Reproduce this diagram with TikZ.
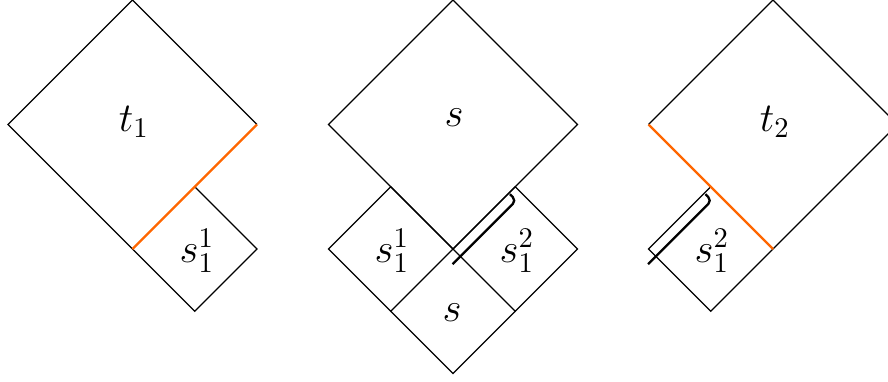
\documentclass[tikz,border=0pt]{standalone}
\usepackage{graphicx}
\definecolor{myorange}{RGB}{255,102,0}
\newcommand{\biglab}[1]{\scalebox{2.85}{\Large$#1$}}
\begin{document}
\begin{tikzpicture}[x=1pt,y=-1pt,
  edge/.style={line width=1.2pt, line join=miter},
  hl/.style={draw=myorange, line width=2.4pt},
  bracket/.style={line width=2.3pt, rounded corners=5pt},
  lab/.style={inner sep=0pt}]
\useasboundingbox (0,0) rectangle (888,381);
% ---------- left diagram ----------
\coordinate (A1t) at (132.5,0);
\coordinate (A1l) at (8,124.5);
\coordinate (A1b) at (132.5,249);
\coordinate (A1r) at (257,124.5);
\coordinate (a1t) at (194.75,186.75);
\coordinate (a1r) at (257,249);
\coordinate (a1b) at (194.75,311.25);
\draw[edge] (A1b) -- (A1l) -- (A1t) -- (A1r);
\draw[edge] (a1t) -- (a1r) -- (a1b) -- (A1b);
\draw[hl] (A1b) -- (A1r);
\node[lab] (t1) at (134,122) {\biglab{t_1}};
\node[lab] (s11a) at (197,251) {\biglab{s_1^1}};
% ---------- middle diagram ----------
\coordinate (Bt) at (453,0);
\coordinate (Bl) at (328.5,124.5);
\coordinate (Bb) at (453,249);
\coordinate (Br) at (577.5,124.5);
\coordinate (b1t) at (390.75,186.75);
\coordinate (b1l) at (328.5,249);
\coordinate (b1b) at (390.75,311.25);
\coordinate (b2t) at (515.25,186.75);
\coordinate (b2r) at (577.5,249);
\coordinate (b2b) at (515.25,311.25);
\coordinate (b3b) at (453,373.5);
\draw[edge] (Bt) -- (Bl) -- (Bb) -- (Br) -- cycle;
\draw[edge] (b1t) -- (b1l) -- (b1b) -- (Bb) -- cycle;
\draw[edge] (b2t) -- (b2r) -- (b2b) -- (Bb) -- cycle;
\draw[edge] (b1b) -- (b3b) -- (b2b);
\node[lab] (s) at (454,118) {\biglab{s}};
\node[lab] (s11b) at (392,251) {\biglab{s_1^1}};
\node[lab] (s12b) at (517,251) {\biglab{s_1^2}};
\node[lab] (sb) at (452,313) {\biglab{s}};
\begin{scope}[shift={(Bb)}, x={(0.7071pt,0.7071pt)}, y={(0.7071pt,-0.7071pt)}]
  \coordinate (m0) at (-11,10.5);
  \coordinate (m1) at (79,10.5);
  \coordinate (m2) at (79,1.5);
  \draw[bracket] (m0) -- (m1) -- (m2);
\end{scope}
% ---------- right diagram ----------
\coordinate (Ct) at (773,0);
\coordinate (Cl) at (648.5,124.5);
\coordinate (Cb) at (773,249);
\coordinate (Cr) at (897.5,124.5);
\coordinate (c1t) at (710.75,186.75);
\coordinate (c1l) at (648.5,249);
\coordinate (c1b) at (710.75,311.25);
\draw[edge] (Cl) -- (Ct) -- (Cr) -- (Cb);
\draw[edge] (c1t) -- (c1l) -- (c1b) -- (Cb);
\draw[hl] (Cl) -- (Cb);
\node[lab] (t2) at (775,122) {\biglab{t_2}};
\node[lab] (s12c) at (712,251) {\biglab{s_1^2}};
\begin{scope}[shift={(c1l)}, x={(0.7071pt,0.7071pt)}, y={(0.7071pt,-0.7071pt)}]
  \coordinate (r0) at (-11,10.5);
  \coordinate (r1) at (79,10.5);
  \coordinate (r2) at (79,1.5);
  \draw[bracket] (r0) -- (r1) -- (r2);
\end{scope}
\end{tikzpicture}
\end{document}
